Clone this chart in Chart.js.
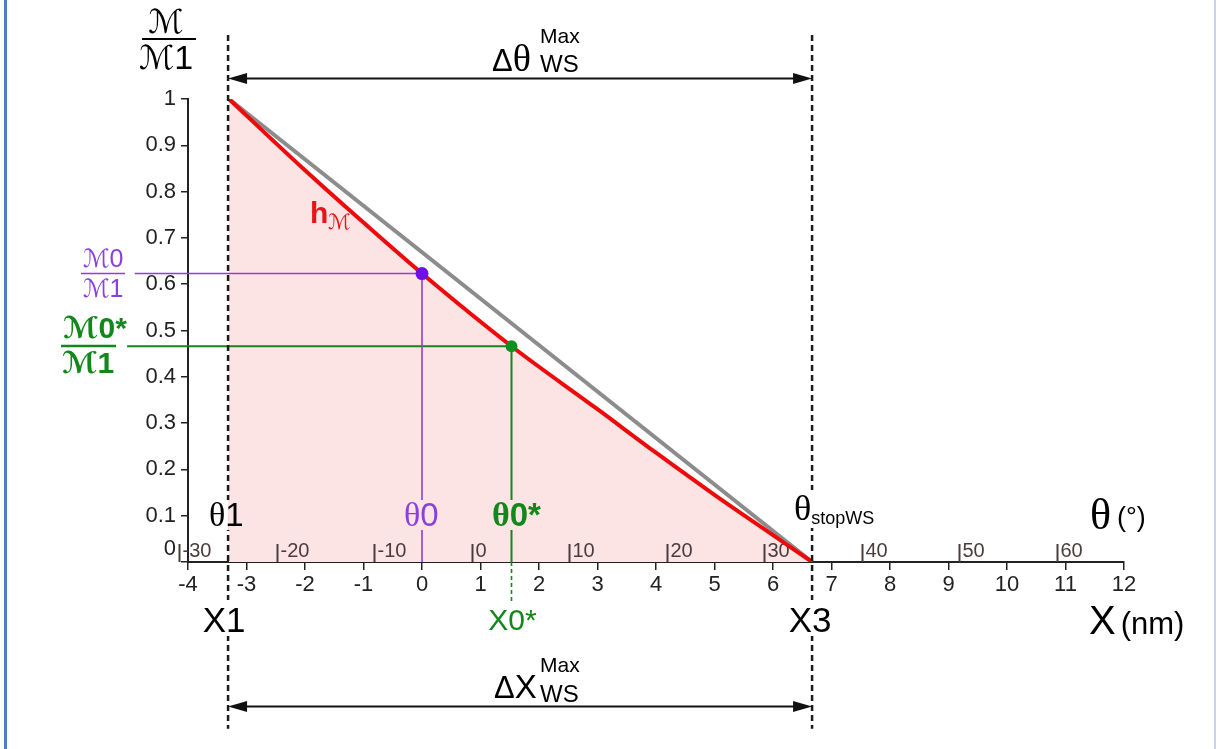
<!DOCTYPE html>
<html>
<head>
<meta charset="utf-8">
<script src="https://cdn.jsdelivr.net/npm/chart.js@4.4.1/dist/chart.umd.min.js"></script>
<style>
  html,body{margin:0;padding:0;background:#fff;}
  canvas{display:block;}
</style>
</head>
<body>
<canvas id="c" width="1217" height="749" style="width:1217px;height:749px"></canvas>
<script>
// ---------- data ----------
const xTicks = [-4,-3,-2,-1,0,1,2,3,4,5,6,7,8,9,10,11,12];
const xTickLabels = ['-4','-3','-2','-1','0','1','2','3','4','5','6','7','8','9','10','11','12'];
const yTicks = [0,0.1,0.2,0.3,0.4,0.5,0.6,0.7,0.8,0.9,1];
const yTickLabels = ['0','0.1','0.2','0.3','0.4','0.5','0.6','0.7','0.8','0.9','1'];
const thetaTicks = [-30,-20,-10,0,10,20,30,40,50,60];
const thetaTickLabels = ['-30','-20','-10','0','10','20','30','40','50','60'];
const thetaAtXmin = -29.1;   // theta (deg) at X = -4 nm
const thetaAtXmax = 66.9;    // theta (deg) at X = 12 nm

const redX = [-3.3, -2, -1, 0, 1.53, 3, 4, 5, 6, 6.67];
const redY = [1.0, 0.846, 0.733, 0.623, 0.466, 0.330, 0.236, 0.145, 0.058, 0];
const grayX = [-3.3, 6.67];
const grayY = [1.0, 0];

const X1 = -3.315, X3 = 6.668;
const X0 = 0, X0star = 1.53;
const M0 = 0.623, M0star = 0.466;
const guideLeftPurple = -4.91, guideLeftGreen = -5.04;
const dashTop = 1.138, dashBottom = -0.36;
const arrowTopY = 1.045, arrowBottomY = -0.312;
const x0starDashEnd = -0.085;

// ---------- styles ----------
const SANS = "'Liberation Sans', Arial, sans-serif";
const SERIF = "'Liberation Serif', 'Times New Roman', serif";
const SCRIPT = "'DejaVu Serif', 'DejaVu Sans', serif";
const PURPLE = '#8a3fe0', PURPLE_DOT = '#7010e8';
const GREEN = '#12871a';
const PINK = '#fce4e4';

const pts = (xs, ys) => xs.map((x, i) => ({x, y: ys[i]}));

function runs(ctx, x, y, list, align) {
  let w = 0;
  for (const r of list) { ctx.font = r.f; w += ctx.measureText(r.t).width + (r.gap || 0); }
  let cx = align === 'center' ? x - w / 2 : align === 'right' ? x - w : x;
  ctx.textAlign = 'left'; ctx.textBaseline = 'alphabetic';
  for (const r of list) {
    ctx.font = r.f; ctx.fillStyle = r.c || '#000';
    ctx.fillText(r.t, cx, y + (r.dy || 0));
    cx += ctx.measureText(r.t).width + (r.gap || 0);
  }
  return w;
}

function arrow(ctx, xa, xb, y) {
  ctx.save();
  ctx.strokeStyle = '#111'; ctx.fillStyle = '#111'; ctx.lineWidth = 2;
  ctx.beginPath(); ctx.moveTo(xa + 10, y); ctx.lineTo(xb - 10, y); ctx.stroke();
  const L = 19, H = 5.5;
  ctx.beginPath(); ctx.moveTo(xa, y); ctx.lineTo(xa + L, y - H); ctx.lineTo(xa + L, y + H); ctx.closePath(); ctx.fill();
  ctx.beginPath(); ctx.moveTo(xb, y); ctx.lineTo(xb - L, y - H); ctx.lineTo(xb - L, y + H); ctx.closePath(); ctx.fill();
  ctx.restore();
}

const thetaPlugin = {
  id: 'thetaAxis',
  beforeDatasetsDraw(chart) {
    const ctx = chart.ctx, xs = chart.scales.x, ys = chart.scales.y;
    const y0 = ys.getPixelForValue(0);
    ctx.save();
    ctx.strokeStyle = '#4a3c3c'; ctx.fillStyle = '#4a3c3c'; ctx.lineWidth = 2;
    ctx.font = `20px ${SANS}`; ctx.textAlign = 'left'; ctx.textBaseline = 'alphabetic';
    thetaTicks.forEach((t, i) => {
      const X = -4 + (t - thetaAtXmin) / (thetaAtXmax - thetaAtXmin) * 16;
      const px = Math.round(xs.getPixelForValue(X)) + 0.5;
      ctx.beginPath(); ctx.moveTo(px, y0); ctx.lineTo(px, y0 - 18); ctx.stroke();
      ctx.fillText(thetaTickLabels[i], px + 3, y0 - 5);
    });
    ctx.restore();
  }
};

const labelPlugin = {
  id: 'labels',
  afterDatasetsDraw(chart) {
    const ctx = chart.ctx, xs = chart.scales.x, ys = chart.scales.y;
    const px1 = xs.getPixelForValue(X1), px3 = xs.getPixelForValue(X3);
    const pX0 = xs.getPixelForValue(X0), pX0s = xs.getPixelForValue(X0star);
    ctx.save();

    // backgrounds behind labels that interrupt lines
    ctx.fillStyle = '#fff'; ctx.fillRect(px1 - 22, 500, 22, 30);
    ctx.fillStyle = PINK; ctx.fillRect(px1, 500, 16, 30);
    ctx.fillRect(pX0 - 20, 500, 42, 30);
    ctx.fillRect(pX0s - 20, 500, 50, 30);
    ctx.fillStyle = '#fff'; ctx.fillRect(px3 - 18, 490, 90, 38);
    ctx.fillRect(px1 - 24, 600, 48, 36);
    ctx.fillRect(px3 - 26, 600, 52, 36);

    // theta labels
    runs(ctx, 209, 526, [{t:'θ', f:`34px ${SERIF}`}, {t:'1', f:`33px ${SANS}`}]);
    runs(ctx, 404, 526, [{t:'θ', f:`34px ${SERIF}`, c:PURPLE}, {t:'0', f:`33px ${SANS}`, c:PURPLE}]);
    runs(ctx, 492, 526, [{t:'θ', f:`bold 34px ${SERIF}`, c:GREEN}, {t:'0*', f:`bold 33px ${SANS}`, c:GREEN}]);
    runs(ctx, 794, 520, [{t:'θ', f:`36px ${SERIF}`}, {t:'stopWS', f:`18px ${SANS}`, dy:4}]);
    runs(ctx, 1090, 529, [{t:'θ', f:`44px ${SERIF}`, gap:6}, {t:'(°)', f:`27px ${SANS}`, dy:-3}]);

    // X labels
    runs(ctx, px1 - 4, 632, [{t:'X1', f:`35px ${SANS}`}], 'center');
    runs(ctx, px3 - 2, 632, [{t:'X3', f:`35px ${SANS}`}], 'center');
    runs(ctx, pX0s + 1, 630, [{t:'X0*', f:`30px ${SANS}`, c:GREEN}], 'center');
    runs(ctx, 1089, 634, [{t:'X', f:`40px ${SANS}`, gap:5}, {t:'(nm)', f:`31px ${SANS}`}]);

    // delta labels + arrows
    runs(ctx, 492, 71, [{t:'Δ', f:`31px ${SANS}`}, {t:'θ', f:`38px ${SERIF}`}]);
    runs(ctx, 540, 43, [{t:'Max', f:`21px ${SANS}`}]);
    runs(ctx, 540, 72, [{t:'WS', f:`24px ${SANS}`}]);
    runs(ctx, 494, 698, [{t:'Δ', f:`31px ${SANS}`}, {t:'X', f:`33px ${SANS}`}]);
    runs(ctx, 540, 672, [{t:'Max', f:`21px ${SANS}`}]);
    runs(ctx, 540, 702, [{t:'WS', f:`24px ${SANS}`}]);
    arrow(ctx, px1, px3, Math.round(ys.getPixelForValue(arrowTopY)) + 0.5);
    arrow(ctx, px1, px3, Math.round(ys.getPixelForValue(arrowBottomY)) + 0.5);

    // h_M label
    runs(ctx, 310, 223, [{t:'h', f:`bold 30px ${SANS}`, c:'#e8141a'}, {t:'ℳ', f:`italic 21px ${SCRIPT}`, c:'#e8141a', dy:6}]);

    // y-axis fraction title
    runs(ctx, 166, 33, [{t:'ℳ', f:`33px ${SCRIPT}`}], 'center');
    ctx.strokeStyle = '#000'; ctx.lineWidth = 2;
    ctx.beginPath(); ctx.moveTo(142, 39); ctx.lineTo(196, 39); ctx.stroke();
    runs(ctx, 166, 69, [{t:'ℳ', f:`33px ${SCRIPT}`}, {t:'1', f:`34px ${SANS}`}], 'center');

    // purple fraction
    runs(ctx, 103, 267, [{t:'ℳ', f:`25px ${SCRIPT}`, c:PURPLE}, {t:'0', f:`25px ${SANS}`, c:PURPLE}], 'center');
    ctx.strokeStyle = PURPLE; ctx.lineWidth = 1.5;
    ctx.beginPath(); ctx.moveTo(81, 273.5); ctx.lineTo(125, 273.5); ctx.stroke();
    runs(ctx, 103, 297, [{t:'ℳ', f:`25px ${SCRIPT}`, c:PURPLE}, {t:'1', f:`25px ${SANS}`, c:PURPLE}], 'center');

    // green fraction
    runs(ctx, 95, 338, [{t:'ℳ', f:`bold 30px ${SCRIPT}`, c:GREEN}, {t:'0*', f:`bold 30px ${SANS}`, c:GREEN}], 'center');
    ctx.strokeStyle = GREEN; ctx.lineWidth = 2.5;
    ctx.beginPath(); ctx.moveTo(61, 346); ctx.lineTo(116, 346); ctx.stroke();
    runs(ctx, 88, 373, [{t:'ℳ', f:`bold 30px ${SCRIPT}`, c:GREEN}, {t:'1', f:`bold 30px ${SANS}`, c:GREEN}], 'center');

    // frame lines
    ctx.fillStyle = '#4f7fc0'; ctx.fillRect(4, 0, 3, 749);
    ctx.fillStyle = '#c4d6ee'; ctx.fillRect(1214, 0, 2, 749);
    ctx.restore();
  }
};

new Chart(document.getElementById('c'), {
  type: 'scatter',
  data: {
    datasets: [
      { label:'purple guide', data:[{x:guideLeftPurple, y:M0},{x:X0, y:M0},{x:X0, y:0}], showLine:true,
        borderColor:PURPLE, borderWidth:1.6, pointRadius:0, clip:false, order:7 },
      { label:'green guide', data:[{x:guideLeftGreen, y:M0star},{x:X0star, y:M0star},{x:X0star, y:0}], showLine:true,
        borderColor:GREEN, borderWidth:2, pointRadius:0, clip:false, order:7 },
      { label:'green dash', data:[{x:X0star, y:0},{x:X0star, y:x0starDashEnd}], showLine:true,
        borderColor:GREEN, borderWidth:1.6, borderDash:[4,3], pointRadius:0, clip:false, order:7 },
      { label:'linear', data:pts(grayX, grayY), showLine:true, borderColor:'#8c8c8c', borderWidth:4,
        pointRadius:0, order:6 },
      { label:'hM', data:pts(redX, redY), showLine:true, borderColor:'#ee0a0a', borderWidth:4,
        pointRadius:0, fill:'origin', backgroundColor:PINK, cubicInterpolationMode:'monotone', order:5 },
      { label:'X1', data:[{x:X1, y:dashTop},{x:X1, y:dashBottom}], showLine:true, borderColor:'#1a1a1a',
        borderWidth:2.5, borderDash:[6,4], pointRadius:0, clip:false, order:4 },
      { label:'X3', data:[{x:X3, y:dashTop},{x:X3, y:dashBottom}], showLine:true, borderColor:'#1a1a1a',
        borderWidth:2.5, borderDash:[6,4], pointRadius:0, clip:false, order:4 },
      { label:'M0', data:[{x:X0, y:M0}], pointRadius:6.5, pointBackgroundColor:PURPLE_DOT,
        pointBorderWidth:0, order:1, clip:false },
      { label:'M0*', data:[{x:X0star, y:M0star}], pointRadius:6, pointBackgroundColor:'#0f8f1f',
        pointBorderWidth:0, order:1, clip:false }
    ]
  },
  options: {
    responsive:false, animation:false, devicePixelRatio:1,
    layout:{ padding:{ left:0, top:99, right:93, bottom:0 } },
    plugins:{ legend:{display:false}, tooltip:{enabled:false}, filler:{drawTime:'beforeDatasetsDraw'} },
    scales:{
      x:{
        type:'linear', min:-4, max:12,
        afterBuildTicks: s => { s.ticks = xTicks.map(v => ({value:v})); },
        afterFit: s => { s.height = 187; },
        ticks:{ autoSkip:false, maxRotation:0, padding:2, color:'#222', font:{family:SANS, size:22},
          callback: v => xTickLabels[xTicks.indexOf(Math.round(v))] },
        grid:{ drawOnChartArea:false, drawTicks:true, tickLength:8, color:'#222', lineWidth:1.5 },
        border:{ display:true, color:'#222', width:2 }
      },
      y:{
        type:'linear', min:0, max:1,
        afterBuildTicks: s => { s.ticks = yTicks.map(v => ({value:v})); },
        afterFit: s => { s.width = 188; },
        ticks:{ autoSkip:false, padding:5, color:'#222', font:{family:SANS, size:22},
          callback: v => { const i = Math.round(v * 10); return i === 0 ? [yTickLabels[i], ''] : yTickLabels[i]; } },
        grid:{ drawOnChartArea:false, drawTicks:true, tickLength:7, color:'#222', lineWidth:1.5 },
        border:{ display:true, color:'#222', width:2 }
      }
    }
  },
  plugins:[thetaPlugin, labelPlugin]
});
</script>
</body>
</html>
